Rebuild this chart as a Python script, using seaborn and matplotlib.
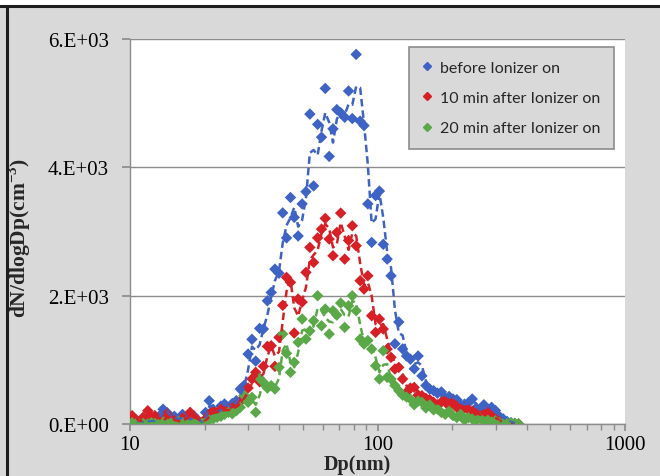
import pandas as pd
import seaborn as sns
import matplotlib.pyplot as plt
from matplotlib.lines import Line2D
from matplotlib.patches import Rectangle
from matplotlib.ticker import FixedLocator, NullFormatter

# particle diameter bins (nm)
dp_nm = [10.2, 10.6, 10.9, 11.3, 11.8, 12.2, 12.6, 13.1, 13.6, 14.1,
         14.6, 15.1, 15.7, 16.3, 16.8, 17.5, 18.1, 18.8, 19.5, 20.2,
         20.9, 21.7, 22.5, 23.3, 24.1, 25.0, 25.9, 26.9, 27.9, 28.9,
         30.0, 31.1, 32.2, 33.4, 34.6, 35.9, 37.2, 38.5, 40.0, 41.4,
         42.9, 44.5, 46.1, 47.8, 49.6, 51.4, 53.3, 55.2, 57.3, 59.4,
         61.5, 63.8, 66.1, 68.5, 71.0, 73.7, 76.4, 79.1, 82.0, 85.1,
         88.2, 91.4, 94.7, 98.2, 101.8, 105.5, 109.4, 113.4, 117.6, 121.9,
         126.3, 131.0, 135.8, 140.7, 145.9, 151.2, 156.8, 162.5, 168.5, 174.7,
         181.1, 187.7, 194.6, 201.7, 209.1, 216.7, 224.7, 232.9, 241.4, 250.3,
         259.5, 269.0, 278.8, 289.0, 299.6, 310.6, 322.0, 333.8, 346.0, 358.7,
         371.8]

before_on = [30, 0, 40, 20, 60, 20, 80, 120, 230, 180,
             60, 120, 40, 150, 90, 60, 130, 40, 20, 180,
             363, 220, 150, 280, 312, 250, 320, 363, 545, 600,
             1090, 1320, 980, 1490, 1480, 1920, 2050, 2414, 2350, 3290,
             2900, 3530, 3220, 2930, 3430, 3620, 4830, 3710, 4670, 4470,
             5230, 4170, 4600, 4900, 4850, 4780, 5190, 4760, 5760, 4720,
             4650, 3430, 2830, 3560, 3630, 2800, 2570, 2310, 1250, 1590,
             1170, 1060, 1010, 860, 1060, 750, 600, 545, 520, 480,
             500, 400, 430, 390, 380, 300, 310, 330, 390, 250,
             200, 300, 220, 260, 210, 120, 80, 40, 20, 10,
             0]

after_10min = [130, 60, 30, 104, 207, 120, 130, 60, 40, 156,
               80, 50, 30, 90, 60, 182, 100, 60, 20, 80,
               150, 200, 170, 230, 200, 234, 250, 285, 350, 441,
               560, 701, 805, 659, 900, 1210, 1220, 899, 1350, 1850,
               2285, 2207, 1417, 1947, 1900, 2363, 2752, 2518, 2900, 3037,
               3204, 2882, 2622, 2986, 3287, 2570, 2860, 3089, 2777, 2233,
               2103, 2310, 1687, 1428, 1636, 1480, 1168, 1039, 857, 883,
               701, 493, 560, 571, 450, 441, 400, 380, 338, 300,
               340, 363, 280, 340, 260, 234, 250, 220, 200, 160,
               130, 150, 182, 120, 78, 40, 10, 0, 0, 0,
               0]

after_20min = [20, 10, 0, 10, 0, 20, 10, 0, 30, 10,
               20, 0, 40, 20, 10, 30, 0, 20, 10, 30,
               60, 80, 104, 120, 150, 182, 160, 207, 260, 441,
               338, 416, 182, 712, 650, 560, 597, 545, 883, 1402,
               1100, 805, 961, 1273, 1636, 1324, 1450, 1609, 1999, 1531,
               1791, 1402, 1765, 1698, 1885, 1506, 1843, 1999, 1765, 1324,
               1246, 1300, 1168, 908, 701, 1142, 727, 701, 600, 519,
               450, 420, 389, 300, 360, 338, 250, 300, 220, 234,
               180, 150, 200, 130, 100, 150, 60, 100, 78, 50,
               90, 40, 60, 30, 50, 20, 16, 10, 20, 10,
               0]

series_labels = ["before Ionizer on", "10 min after Ionizer on", "20 min after Ionizer on"]
series_colors = ["#3d63c4", "#d71f26", "#5aa847"]
y_ticks = [0, 2000, 4000, 6000]
y_tick_labels = ["0.E+00", "2.E+03", "4.E+03", "6.E+03"]
x_ticks = [10, 100, 1000]
x_tick_labels = ["10", "100", "1000"]

# long-form table for seaborn
frames = []
for lab, vals in zip(series_labels, [before_on, after_10min, after_20min]):
    d = pd.DataFrame({"Dp": dp_nm, "dN": vals, "series": lab})
    d["trend"] = d["dN"].rolling(2).mean()   # 2-point moving average trendline
    frames.append(d)
df = pd.concat(frames, ignore_index=True)

sns.set_theme(style="white")
plt.rcParams["font.family"] = ["Liberation Serif", "DejaVu Serif"]
plt.rcParams["mathtext.fontset"] = "custom"
plt.rcParams["mathtext.rm"] = "Liberation Serif"
plt.rcParams["mathtext.bf"] = "Liberation Serif:bold"

fig = plt.figure(figsize=(6.6, 4.77), dpi=100, facecolor="#d9d9d9")
ax = fig.add_axes([130 / 660, 52 / 477, 495 / 660, 385 / 477])
ax.set_facecolor("white")
ax.set_xscale("log")

sns.scatterplot(data=df, x="Dp", y="dN", hue="series", hue_order=series_labels,
                palette=series_colors, marker="D", s=34, linewidth=0,
                legend=False, ax=ax, zorder=3)
for lab, col in zip(series_labels, series_colors):
    sub = df[df["series"] == lab].dropna(subset=["trend"])
    sns.lineplot(data=sub, x="Dp", y="trend", color=col, linestyle=(0, (3, 1.6)),
                 linewidth=1.8, sort=False, ax=ax, zorder=4)

ax.set_xlim(10, 1000)
ax.set_ylim(0, 6000)
ax.xaxis.set_major_locator(FixedLocator(x_ticks))
ax.set_xticklabels(x_tick_labels)
ax.xaxis.set_minor_locator(FixedLocator([m * d for d in (10, 100) for m in range(2, 10)]))
ax.xaxis.set_minor_formatter(NullFormatter())
ax.set_yticks(y_ticks)
ax.set_yticklabels(y_tick_labels)

ax.grid(axis="y", color="#8c8c8c", linewidth=1)
ax.grid(axis="x", visible=False)
for side in ["top", "right"]:
    ax.spines[side].set_visible(False)
for side in ["left", "bottom"]:
    ax.spines[side].set_color("#8c8c8c")
    ax.spines[side].set_linewidth(1)

ax.tick_params(axis="both", which="both", direction="out", color="#8c8c8c",
               labelcolor="black", labelsize=15)
ax.tick_params(axis="x", which="major", length=5, pad=3, bottom=True)
ax.tick_params(axis="x", which="minor", length=4, bottom=True)
ax.tick_params(axis="y", length=6, pad=9, left=True)

ax.set_xlabel("Dp(nm)", fontsize=14.5, fontweight="bold")
ax.xaxis.set_label_coords(0.46, -0.078)
ax.set_ylabel(r"dN/dlogDp(cm$^{\mathbf{-3}}$)", fontsize=15.5, fontweight="bold")
ax.yaxis.set_label_coords(-0.196, 0.486)

handles = [Line2D([], [], marker="D", linestyle="none", color=c, markersize=4)
           for c in series_colors]
leg = ax.legend(handles, series_labels, loc="upper right",
                bbox_to_anchor=(0.978, 0.979), frameon=True, fancybox=False,
                facecolor="#d9d9d9", edgecolor="#8c8c8c", framealpha=1,
                prop={"family": "Lato", "size": 11.5}, handlelength=0.6,
                handletextpad=0.5, labelspacing=1.0, borderpad=0.85,
                borderaxespad=0)
leg.get_frame().set_linewidth(1.2)

# dark frame around the picture (top and left edges)
fig.add_artist(Rectangle((0, 1 - 6 / 477), 1, 6 / 477, transform=fig.transFigure,
                         color="white", zorder=0))
fig.add_artist(Line2D([0, 1], [1 - 7 / 477, 1 - 7 / 477], transform=fig.transFigure,
                      color="#1e1e1e", linewidth=2.2))
fig.add_artist(Line2D([7 / 660, 7 / 660], [0, 1 - 7 / 477], transform=fig.transFigure,
                      color="#1e1e1e", linewidth=2.2))

fig.savefig("out.png", dpi=100, facecolor=fig.get_facecolor())
